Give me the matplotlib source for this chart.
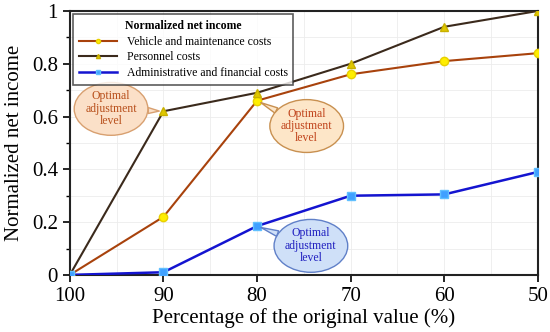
import matplotlib
matplotlib.use("Agg")
import matplotlib.pyplot as plt
from matplotlib.ticker import MultipleLocator

plt.rcParams['font.family'] = ['Liberation Serif', 'DejaVu Serif']

x = [100, 90, 80, 70, 60, 50]
vehicle = [0.0, 0.22, 0.66, 0.76, 0.81, 0.84]
personnel = [0.0, 0.62, 0.69, 0.80, 0.94, 1.0]
admin = [0.0, 0.01, 0.185, 0.30, 0.305, 0.39]
labels = ["Vehicle and maintenance costs", "Personnel costs",
          "Administrative and financial costs"]
xticks = [100, 90, 80, 70, 60, 50]
yticks = [0, 0.2, 0.4, 0.6, 0.8, 1]
ytick_labels = ["0", "0.2", "0.4", "0.6", "0.8", "1"]

fig = plt.figure(figsize=(5.5, 3.32), dpi=100)
ax = fig.add_axes([0.127, 0.172, 0.851, 0.795])

ax.plot(x, vehicle, color='#a8420c', lw=1.5, marker='o', ms=6,
        mfc='#ffee00', mec='#e8d000', label=labels[0], zorder=3)
ax.plot(x, personnel, color='#3b2a1c', lw=1.5, marker='^', ms=6,
        mfc='#e0c800', mec='#c8b000', label=labels[1], zorder=3)
ax.plot(x, admin, color='#1414d0', lw=1.8, marker='s', ms=6,
        mfc='#40a0ff', mec='#60c0ff', label=labels[2], zorder=3)

ax.set_xlim(100, 50)
ax.set_ylim(0, 1)
ax.set_xticks(xticks)
ax.set_xticklabels([str(v) for v in xticks])
ax.set_yticks(yticks)
ax.set_yticklabels(ytick_labels)
ax.yaxis.set_minor_locator(MultipleLocator(0.1))
ax.xaxis.set_minor_locator(MultipleLocator(5))
ax.tick_params(axis='both', which='major', labelsize=15, direction='out',
               length=5, width=1.2, top=False, right=False)
ax.tick_params(axis='y', which='minor', direction='out', length=3, width=1)
ax.tick_params(axis='x', which='minor', length=0)
ax.grid(True, which='both', color='#ececec', lw=0.6, zorder=0)
for s in ax.spines.values():
    s.set_linewidth(1.5)
    s.set_color('#222222')

ax.set_xlabel("Percentage of the original value (%)", fontsize=15, labelpad=2)
ax.set_ylabel("Normalized net income", fontsize=15, labelpad=6)

leg = ax.legend(loc='upper left', title="Normalized net income",
                fontsize=8.5, title_fontproperties={'weight': 'bold', 'size': 8.5},
                frameon=True, fancybox=False, edgecolor='#333333',
                borderaxespad=0.3, handlelength=3.2, markerscale=0.5,
                labelspacing=0.3, borderpad=0.5)
leg.get_frame().set_linewidth(1.2)

def bubble(xy, xytext, fc, ec, tc):
    ax.annotate("Optimal\nadjustment\nlevel", xy=xy, xytext=xytext,
                textcoords='data', ha='center', va='center', fontsize=8.5,
                color=tc, linespacing=1.05, zorder=4,
                bbox=dict(boxstyle='ellipse,pad=0.02', fc=fc, ec=ec, lw=1),
                arrowprops=dict(arrowstyle='wedge,tail_width=0.5,shrink_factor=0.5',
                                fc=fc, ec=ec, lw=1, shrinkA=0, shrinkB=3))

bubble((90, personnel[1]), (95.6, 0.629), '#fbe0c8', '#d8a070', '#b8501c')
bubble((80, vehicle[2]), (74.7, 0.564), '#fde6c8', '#c89050', '#c0441c')
bubble((80, admin[2]), (74.25, 0.11), '#cfe0f8', '#6080c8', '#2020c0')

fig.savefig("out.png", dpi=100)
